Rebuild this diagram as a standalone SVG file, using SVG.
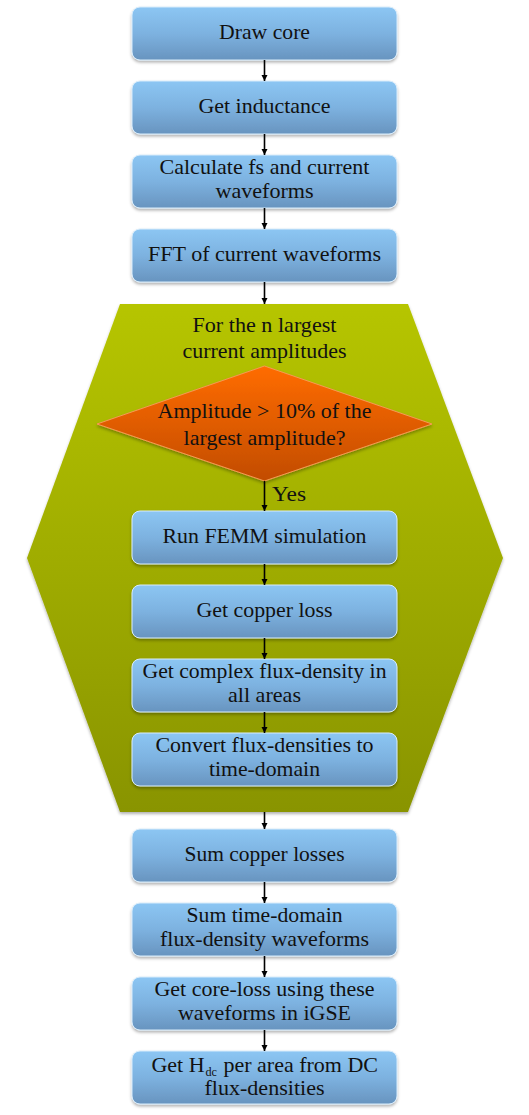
<svg xmlns="http://www.w3.org/2000/svg" width="529" height="1115" viewBox="0 0 529 1115">
<defs>
<linearGradient id="gBox" x1="0" y1="0" x2="0" y2="1">
<stop offset="0" stop-color="#8cc6f3"/>
<stop offset="0.5" stop-color="#7db2e0"/>
<stop offset="1" stop-color="#6894bf"/>
</linearGradient>
<linearGradient id="gHex" x1="0" y1="0" x2="0" y2="1">
<stop offset="0" stop-color="#b6c500"/>
<stop offset="1" stop-color="#899400"/>
</linearGradient>
<linearGradient id="gDia" x1="0" y1="0" x2="0" y2="1">
<stop offset="0" stop-color="#ff6c00"/>
<stop offset="1" stop-color="#c24c00"/>
</linearGradient>
<filter id="sh" x="-10%" y="-10%" width="120%" height="130%">
<feDropShadow dx="0" dy="2" stdDeviation="1.5" flood-color="#000" flood-opacity="0.3"/>
</filter>
<marker id="ah" viewBox="0 0 10 10" refX="10" refY="5" markerWidth="4" markerHeight="4" orient="auto" markerUnits="strokeWidth">
<path d="M0,0 L10,5 L0,10 z" fill="#000"/>
</marker>
</defs>
<style>
.box{fill:url(#gBox);stroke:#d8ecfb;stroke-width:1;filter:url(#sh)}
.t{font-family:'Liberation Serif','Times New Roman',serif;font-size:22px;fill:#111;text-anchor:middle}
.y{font-family:'Liberation Serif','Times New Roman',serif;font-size:22px;fill:#111}
.c{stroke:#000;stroke-width:1.6;fill:none;marker-end:url(#ah)}
</style>
<rect width="529" height="1115" fill="#fff"/>
<g id="loop">
<polygon points="120,304 408,304 503,558 408,812 120,812 27,558" fill="url(#gHex)" filter="url(#sh)"/>
<text class="t" x="264.5" y="332" textLength="144" lengthAdjust="spacingAndGlyphs">For the n largest</text>
<text class="t" x="264.5" y="358" textLength="164" lengthAdjust="spacingAndGlyphs">current amplitudes</text>
</g>
<g id="decision">
<polygon points="264.5,366 432,424 264.5,481 97,424" fill="url(#gDia)" stroke="#f59a55" stroke-width="1" filter="url(#sh)"/>
<text class="t" x="264.5" y="418" textLength="214" lengthAdjust="spacingAndGlyphs">Amplitude &gt; 10% of the</text>
<text class="t" x="264.5" y="445" textLength="162" lengthAdjust="spacingAndGlyphs">largest amplitude?</text>
</g>
<g id="n1"><rect class="box" x="132" y="7" width="265" height="53" rx="8"/><text class="t" x="264.5" y="39" textLength="91" lengthAdjust="spacingAndGlyphs">Draw core</text></g>
<g id="n2"><rect class="box" x="132" y="81" width="265" height="53" rx="8"/><text class="t" x="264.5" y="113" textLength="132" lengthAdjust="spacingAndGlyphs">Get inductance</text></g>
<g id="n3"><rect class="box" x="132" y="155" width="265" height="53" rx="8"/><text class="t" x="264.5" y="174" textLength="210" lengthAdjust="spacingAndGlyphs">Calculate fs and current</text><text class="t" x="264.5" y="198" textLength="98" lengthAdjust="spacingAndGlyphs">waveforms</text></g>
<g id="n4"><rect class="box" x="132" y="229" width="265" height="53" rx="8"/><text class="t" x="264.5" y="261" textLength="233" lengthAdjust="spacingAndGlyphs">FFT of current waveforms</text></g>
<g id="n5"><rect class="box" x="132" y="511" width="265" height="53" rx="8"/><text class="t" x="264.5" y="543" textLength="204" lengthAdjust="spacingAndGlyphs">Run FEMM simulation</text></g>
<g id="n6"><rect class="box" x="132" y="585" width="265" height="53" rx="8"/><text class="t" x="264.5" y="617" textLength="136" lengthAdjust="spacingAndGlyphs">Get copper loss</text></g>
<g id="n7"><rect class="box" x="132" y="659" width="265" height="53" rx="8"/><text class="t" x="264.5" y="678" textLength="244" lengthAdjust="spacingAndGlyphs">Get complex flux-density in</text><text class="t" x="264.5" y="702" textLength="73" lengthAdjust="spacingAndGlyphs">all areas</text></g>
<g id="n8"><rect class="box" x="132" y="733" width="265" height="53" rx="8"/><text class="t" x="264.5" y="752" textLength="218" lengthAdjust="spacingAndGlyphs">Convert flux-densities to</text><text class="t" x="264.5" y="776" textLength="111" lengthAdjust="spacingAndGlyphs">time-domain</text></g>
<g id="n9"><rect class="box" x="132" y="829" width="265" height="53" rx="8"/><text class="t" x="264.5" y="861" textLength="160" lengthAdjust="spacingAndGlyphs">Sum copper losses</text></g>
<g id="n10"><rect class="box" x="132" y="903" width="265" height="53" rx="8"/><text class="t" x="264.5" y="922" textLength="156" lengthAdjust="spacingAndGlyphs">Sum time-domain</text><text class="t" x="264.5" y="946" textLength="209" lengthAdjust="spacingAndGlyphs">flux-density waveforms</text></g>
<g id="n11"><rect class="box" x="132" y="977" width="265" height="53" rx="8"/><text class="t" x="264.5" y="996" textLength="220" lengthAdjust="spacingAndGlyphs">Get core-loss using these</text><text class="t" x="264.5" y="1020" textLength="173" lengthAdjust="spacingAndGlyphs">waveforms in iGSE</text></g>
<g id="n12"><rect class="box" x="132" y="1051" width="265" height="53" rx="8"/>
<text class="y" x="151.5" y="1072" textLength="53" lengthAdjust="spacingAndGlyphs">Get H</text>
<text class="y" x="205.5" y="1076" font-size="13" style="font-size:13px" textLength="11.5" lengthAdjust="spacingAndGlyphs">dc</text>
<text class="y" x="223.5" y="1072" textLength="154.5" lengthAdjust="spacingAndGlyphs">per area from DC</text>
<text class="t" x="264.5" y="1095" textLength="120" lengthAdjust="spacingAndGlyphs">flux-densities</text></g>
<g id="connectors">
<line class="c" x1="264.5" y1="60" x2="264.5" y2="81"/>
<line class="c" x1="264.5" y1="134" x2="264.5" y2="155"/>
<line class="c" x1="264.5" y1="208" x2="264.5" y2="229"/>
<line class="c" x1="264.5" y1="282" x2="264.5" y2="304"/>
<line class="c" x1="264.5" y1="481" x2="264.5" y2="511"/>
<text class="y" x="272" y="501" textLength="34" lengthAdjust="spacingAndGlyphs">Yes</text>
<line class="c" x1="264.5" y1="564" x2="264.5" y2="585"/>
<line class="c" x1="264.5" y1="638" x2="264.5" y2="659"/>
<line class="c" x1="264.5" y1="712" x2="264.5" y2="733"/>
<line class="c" x1="264.5" y1="812" x2="264.5" y2="829"/>
<line class="c" x1="264.5" y1="882" x2="264.5" y2="903"/>
<line class="c" x1="264.5" y1="956" x2="264.5" y2="977"/>
<line class="c" x1="264.5" y1="1030" x2="264.5" y2="1051"/>
</g>
</svg>
